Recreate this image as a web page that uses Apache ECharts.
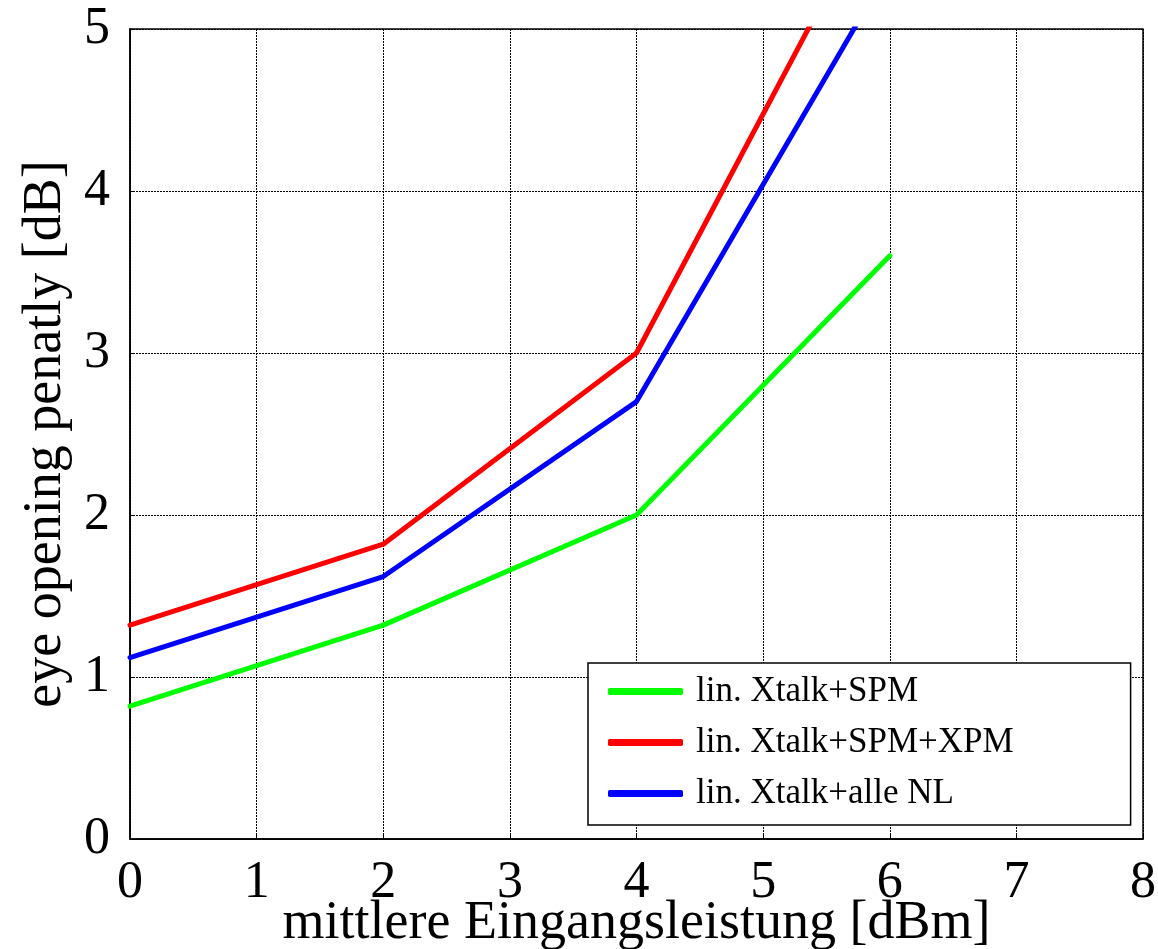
<!DOCTYPE html>
<html>
<head>
<meta charset="utf-8">
<script src="https://cdn.jsdelivr.net/npm/echarts@6/dist/echarts.min.js"></script>
<style>html,body{margin:0;padding:0;background:#fff;}#c{width:1158px;height:949px;}</style>
</head>
<body>
<div id="c"></div>
<script>
const xTicks = [0, 1, 2, 3, 4, 5, 6, 7, 8];
const yTicks = [0, 1, 2, 3, 4, 5];
const xValues = [0, 2, 4, 6];
const seriesNames = ['lin. Xtalk+SPM', 'lin. Xtalk+SPM+XPM', 'lin. Xtalk+alle NL'];
const greenVals = [0.82, 1.32, 2.0, 3.6];
const redVals = [1.32, 1.82, 3.0, 5.95];
const blueVals = [1.12, 1.62, 2.7, 5.38];
const colors = ['#00ff00', '#ff0000', '#0000ff'];
const xTitle = 'mittlere Eingangsleistung [dBm]';
const yTitle = 'eye opening penatly [dB]';

const FONT = '"Liberation Serif", "Times New Roman", serif';
const chart = echarts.init(document.getElementById('c'));
function pairs(vals){ return xValues.map((x,i)=>[x, vals[i]]); }
const allVals = [greenVals, redVals, blueVals];

chart.setOption({
  animation: false,
  backgroundColor: '#fff',
  grid: {left: 130, top: 29, right: 15, bottom: 110, outerBoundsMode: 'none', containLabel: false,
         show: true, borderColor: '#000', borderWidth: 1.5, backgroundColor: 'transparent'},
  xAxis: {
    type: 'value', min: xTicks[0], max: xTicks[xTicks.length-1], interval: 1,
    name: xTitle, nameLocation: 'middle', nameGap: 58, nameMoveOverlap: false,
    nameTextStyle: {fontFamily: FONT, fontSize: 54, color: '#000'},
    axisLine: {show: true, lineStyle: {color: '#000', width: 1.5}},
    axisTick: {show: true, inside: true, length: 5, lineStyle: {color: '#000'}},
    axisLabel: {fontFamily: FONT, fontSize: 52, color: '#000', margin: 18},
    splitLine: {show: true, lineStyle: {color: '#000', type: [2, 1], width: 1}}
  },
  yAxis: {
    type: 'value', min: yTicks[0], max: yTicks[yTicks.length-1], interval: 1,
    name: yTitle, nameLocation: 'middle', nameGap: 57, nameMoveOverlap: false,
    nameTextStyle: {fontFamily: FONT, fontSize: 54, color: '#000'},
    axisLine: {show: true, lineStyle: {color: '#000', width: 1.5}},
    axisTick: {show: true, inside: true, length: 5, lineStyle: {color: '#000'}},
    axisLabel: {fontFamily: FONT, fontSize: 52, color: '#000', margin: 20},
    splitLine: {show: true, lineStyle: {color: '#000', type: [2, 1], width: 1}}
  },
  legend: {
    orient: 'vertical', left: 588, top: 663,
    padding: [11, 117, 14, 20], itemGap: 16, itemWidth: 75, itemHeight: 7,
    icon: 'roundRect',
    backgroundColor: '#fff', borderColor: '#000', borderWidth: 1.5, borderRadius: 0,
    textStyle: {fontFamily: FONT, fontSize: 35, color: '#000', lineHeight: 34, padding: [0,0,0,8]},
    data: seriesNames
  },
  series: seriesNames.map((n, i) => ({
    name: n, type: 'line', data: pairs(allVals[i]), symbol: 'none', clip: true,
    color: colors[i], lineStyle: {color: colors[i], width: 5, cap: 'round', join: 'round'}
  }))
});
</script>
</body>
</html>
